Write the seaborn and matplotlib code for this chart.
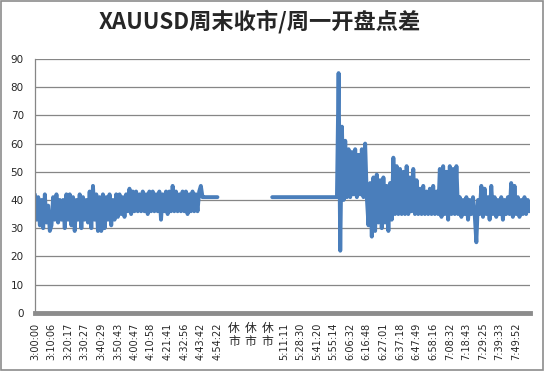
import matplotlib.pyplot as plt
import seaborn as sns
import pandas as pd
import numpy as np
from matplotlib.patches import Rectangle

title = 'XAUUSD周末收市/周一开盘点差'

tick_labels = ['3:00:00', '3:10:06', '3:20:17', '3:30:27', '3:40:29', '3:50:43',
               '4:00:47', '4:10:58', '4:21:41', '4:32:56', '4:43:42', '4:54:22',
               '休市', '休市', '休市',
               '5:11:11', '5:28:30', '5:41:20', '5:55:14', '6:06:32', '6:16:48',
               '6:27:01', '6:37:18', '6:47:49', '6:58:16', '7:08:32', '7:18:43',
               '7:29:25', '7:39:33', '7:49:52']

# friday session before the close
spread_fri = [42, 33, 41, 31, 40, 30, 42, 32, 38, 29,
              31, 41, 33, 42, 32, 40, 33, 40, 30, 42,
              33, 42, 31, 41, 29, 40, 33, 42, 30, 41,
              33, 40, 32, 43, 30, 45, 33, 42, 29, 41,
              29, 42, 30, 41, 33, 42, 31, 40, 33, 42,
              34, 42, 35, 41, 34, 42, 36, 44, 35, 43,
              36, 43, 36, 42, 36, 43, 36, 42, 35, 43,
              36, 43, 36, 42, 36, 43, 33, 42, 36, 43,
              35, 43, 36, 45, 36, 43, 36, 42, 36, 43,
              36, 43, 35, 42, 36, 43, 36, 42, 36, 43,
              45]
# last quote held before the market shuts
spread_fri_flat = [41, 41, 41, 41, 41, 41, 41, 41, 41, 41]
# market closed -> no quotes
spread_closed = [np.nan] * 32
# monday pre-open quote
spread_mon_flat = [41, 41, 41, 41, 41, 41, 41, 41, 41, 41,
                   41, 41, 41, 41, 41, 41, 41, 41, 41, 41,
                   41, 41, 41, 41, 41, 41, 41, 41, 41, 41,
                   41, 41, 41, 41, 41, 41, 41, 41, 41, 41]
# monday session after the open
spread_mon = [85, 22, 66, 40, 61, 41,
              58, 41, 57, 42, 58, 41, 56, 42, 58, 41, 60, 41,
              31, 46, 27, 48, 29, 49, 32, 47,
              30, 48, 32, 45, 29, 46, 33,
              55,
              35, 52, 35, 51, 35, 50, 35, 52, 35, 48, 36, 51, 35, 47, 35,
              44, 35, 45, 35, 43, 35, 44, 35, 45, 35, 43, 35,
              51, 34, 52, 35, 50, 33, 52, 35, 51, 35, 52,
              35, 41, 34, 40, 35, 41, 33, 40, 35, 41, 35,
              25,
              40, 35, 45, 34, 44, 35, 41, 33, 45, 35,
              41, 34, 40, 35, 41, 33, 40, 35, 41, 35,
              46, 34, 45, 35, 41, 34, 40, 35, 41, 35,
              40, 36]

fri = spread_fri + spread_fri_flat
mon = spread_mon_flat + spread_mon
values = fri + spread_closed + mon
df = pd.DataFrame({'idx': np.arange(len(values)), 'spread': values,
                   'seg': [0] * len(fri) + [1] * (len(spread_closed) + len(mon))})

sns.set_style('white')
plt.rcParams['font.family'] = ['DejaVu Sans', 'Noto Sans CJK SC']

fig, ax = plt.subplots(figsize=(5.45, 3.71), dpi=100)
fig.subplots_adjust(left=0.064, right=0.973, bottom=0.157, top=0.841)

sns.lineplot(data=df, x='idx', y='spread', units='seg', estimator=None,
             color='#4a7ebb', lw=2.8, ax=ax)

grid_c = '#868686'
ax.set_ylim(0, 90)
ax.set_yticks(np.arange(0, 91, 10))
ax.set_xlim(0, len(values) - 0.5)
# chinese labels are stacked upright like excel does
shown = ['\n'.join(t) if not t[0].isdigit() else t for t in tick_labels]
ax.set_xticks(np.arange(0, 10 * len(tick_labels), 10), shown, rotation=90, fontsize=7)
for lab in ax.get_xticklabels():
    if '\n' in lab.get_text():
        lab.set_rotation(0)
        lab.set_fontsize(8.5)
        lab.set_linespacing(1.0)
ax.yaxis.grid(True, color=grid_c, lw=0.9)
ax.set_axisbelow(True)
ax.tick_params(axis='x', length=0, pad=7)
ax.tick_params(axis='y', length=4, width=0.8, color=grid_c, labelsize=7.5, pad=4)
sns.despine(ax=ax)
ax.spines['left'].set_color(grid_c)
ax.spines['left'].set_linewidth(0.9)
ax.spines['bottom'].set_color('#8c8c8c')
ax.spines['bottom'].set_linewidth(3.5)
ax.set_xlabel('')
ax.set_ylabel('')

fig.text(0.477, 0.942, title, ha='center', va='center', fontsize=16,
         fontweight='bold', family=['Noto Sans CJK SC', 'DejaVu Sans'])

fig.patches.append(Rectangle((0.002, 0.003), 0.995, 0.993, transform=fig.transFigure,
                             fill=False, edgecolor='#8c8c8c', lw=1.2))

fig.savefig('out.png', dpi=100)
